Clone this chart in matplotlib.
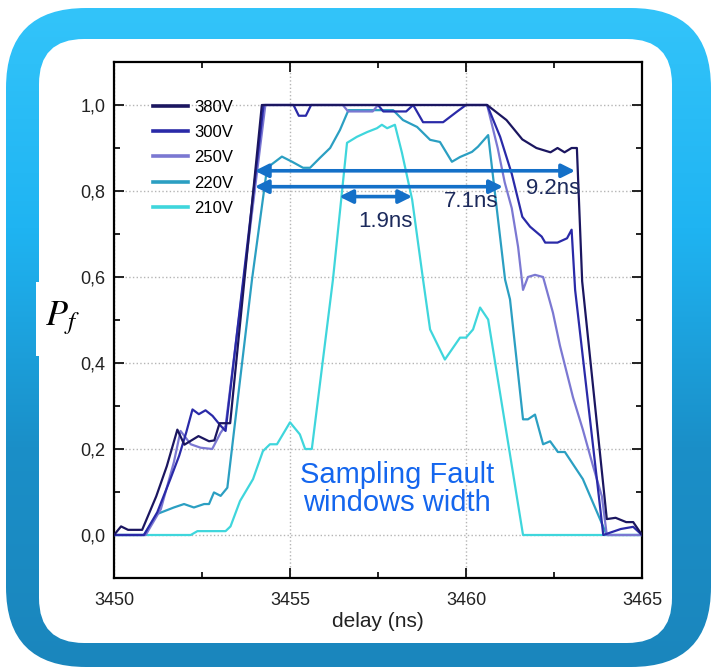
import numpy as np
import matplotlib
matplotlib.use("Agg")
import matplotlib.pyplot as plt
from matplotlib import font_manager
from matplotlib.patches import FancyBboxPatch, Rectangle
from matplotlib.colors import LinearSegmentedColormap
from matplotlib.ticker import MultipleLocator, FuncFormatter

# pulse delay (ns) vs fault probability, one curve per supply voltage
x380 = [3450.0, 3450.2, 3450.4, 3450.8, 3451.2, 3451.5, 3451.8, 3452.0, 3452.4, 3452.7,
        3452.85, 3453.0, 3453.3, 3454.2, 3460.6, 3461.15, 3461.6, 3462.0, 3462.4, 3462.6,
        3462.8, 3463.0, 3463.15, 3463.3, 3464.0, 3464.25, 3464.55, 3464.75, 3465.0]
y380 = [0.0, 0.02, 0.012, 0.012, 0.09, 0.16, 0.245, 0.21, 0.23, 0.218,
        0.22, 0.26, 0.26, 1.0, 1.0, 0.965, 0.92, 0.9, 0.89, 0.9,
        0.89, 0.9, 0.9, 0.59, 0.037, 0.04, 0.03, 0.03, 0.0]

x300 = [3450.0, 3450.85, 3451.23, 3451.6, 3451.85, 3452.05, 3452.23, 3452.41, 3452.6, 3452.8,
        3453.03, 3453.17, 3454.25, 3455.1, 3455.25, 3455.45, 3455.6, 3457.5, 3457.65, 3458.3,
        3458.5, 3458.78, 3459.35, 3459.75, 3460.0, 3460.6, 3460.97, 3461.3, 3461.6, 3461.82,
        3462.15, 3462.25, 3462.6, 3462.87, 3463.0, 3463.1, 3463.9, 3464.4, 3464.75, 3465.0]
y300 = [0.0, 0.0, 0.053, 0.13, 0.184, 0.238, 0.292, 0.281, 0.29, 0.277,
        0.254, 0.242, 1.0, 1.0, 0.975, 0.975, 1.0, 1.0, 0.985, 0.985,
        1.0, 0.96, 0.96, 0.985, 1.0, 1.0, 0.926, 0.84, 0.74, 0.717,
        0.694, 0.68, 0.68, 0.69, 0.71, 0.57, 0.0, 0.014, 0.019, 0.0]

x250 = [3450.0, 3450.9, 3451.33, 3451.7, 3451.89, 3452.18, 3452.46, 3452.79, 3453.03, 3453.17,
        3454.3, 3456.5, 3456.65, 3457.35, 3457.5, 3460.6, 3460.9, 3461.1, 3461.3, 3461.48,
        3461.62, 3461.76, 3461.96, 3462.19, 3462.47, 3462.67, 3463.04, 3463.32, 3463.61, 3463.86,
        3464.0, 3465.0]
y250 = [0.0, 0.0, 0.06, 0.169, 0.242, 0.211, 0.203, 0.2, 0.238, 0.254,
        1.0, 1.0, 0.985, 0.985, 1.0, 1.0, 0.9, 0.82, 0.76, 0.67,
        0.57, 0.6, 0.605, 0.6, 0.517, 0.44, 0.32, 0.245, 0.16, 0.09,
        0.0, 0.0]

x220 = [3450.0, 3450.85, 3451.23, 3451.7, 3451.99, 3452.27, 3452.56, 3452.7, 3452.84, 3453.03,
        3453.22, 3453.55, 3453.92, 3454.35, 3454.77, 3455.06, 3455.37, 3455.57, 3455.85, 3456.14,
        3456.42, 3456.66, 3457.93, 3458.21, 3458.61, 3458.98, 3459.26, 3459.6, 3459.83, 3460.17,
        3460.34, 3460.63, 3461.11, 3461.25, 3461.62, 3461.76, 3461.96, 3462.19, 3462.39, 3462.61,
        3462.81, 3463.32, 3464.0, 3465.0]
y220 = [0.0, 0.0, 0.049, 0.064, 0.072, 0.064, 0.072, 0.072, 0.099, 0.091,
        0.11, 0.339, 0.594, 0.854, 0.88, 0.868, 0.854, 0.854, 0.877, 0.9,
        0.942, 0.988, 0.988, 0.965, 0.949, 0.919, 0.914, 0.868, 0.879, 0.891,
        0.903, 0.93, 0.594, 0.548, 0.269, 0.269, 0.28, 0.211, 0.218, 0.193,
        0.193, 0.13, 0.0, 0.0]

x210 = [3450.0, 3452.18, 3452.37, 3453.17, 3453.31, 3453.58, 3453.95, 3454.23, 3454.43, 3454.63,
        3455.0, 3455.28, 3455.43, 3455.62, 3456.22, 3456.62, 3456.9, 3457.19, 3457.47, 3457.61,
        3457.76, 3457.98, 3458.18, 3458.47, 3458.78, 3458.98, 3459.4, 3459.83, 3460.0, 3460.2,
        3460.4, 3460.63, 3461.62, 3465.0]
y210 = [0.0, 0.0, 0.009, 0.009, 0.02, 0.079, 0.13, 0.195, 0.211, 0.211,
        0.262, 0.234, 0.2, 0.2, 0.594, 0.912, 0.926, 0.937, 0.946, 0.954,
        0.946, 0.954, 0.889, 0.78, 0.594, 0.478, 0.408, 0.459, 0.459, 0.478,
        0.529, 0.501, 0.0, 0.0]

labels = ["380V", "300V", "250V", "220V", "210V"]
colors = ["#1b1660", "#2a2aa8", "#7b78d2", "#2b9fc2", "#3fd6dc"]
series = [(x380, y380), (x300, y300), (x250, y250), (x220, y220), (x210, y210)]

# window widths: start, end, level, text and its position
win_start = [3454.0, 3454.0, 3456.4]
win_end = [3463.1, 3461.05, 3458.47]
win_level = [0.847, 0.81, 0.787]
win_text = ["9.2ns", "7.1ns", "1.9ns"]
win_tx = [3462.47, 3460.14, 3457.7]
win_ty = [0.805, 0.775, 0.729]

names = {f.name for f in font_manager.fontManager.ttflist}
narrow = "Liberation Sans Narrow" if "Liberation Sans Narrow" in names else "Liberation Sans"
plt.rcParams["font.family"] = [narrow, "DejaVu Sans"]
plt.rcParams["mathtext.fontset"] = "stix"

W, H = 713, 670
fig = plt.figure(figsize=(W / 100, H / 100), dpi=100)

# blue rounded frame behind the plot
bg = fig.add_axes([0, 0, 1, 1], zorder=-5)
bg.set_xlim(0, W)
bg.set_ylim(H, 0)
bg.axis("off")
outer = FancyBboxPatch((6, 8), 705, 659, boxstyle="round,pad=0,rounding_size=80",
                       facecolor="none", edgecolor="none")
bg.add_patch(outer)
cmap = LinearSegmentedColormap.from_list("frame", ["#33c4fa", "#1fb4f2", "#1a8fc8", "#1b86bd"])
img = bg.imshow(np.linspace(0, 1, 256).reshape(-1, 1), cmap=cmap, aspect="auto",
                extent=(6, 711, 667, 8), origin="upper")
img.set_clip_path(outer)
inner = FancyBboxPatch((39, 39), 633, 604, boxstyle="round,pad=0,rounding_size=45",
                       facecolor="white", edgecolor="none")
bg.add_patch(inner)
bg.add_patch(Rectangle((36, 282), 12, 74, facecolor="white", edgecolor="none"))

ax = fig.add_axes([114 / W, 1 - 578 / H, 528 / W, 516 / H])
for (xs, ys), lab, c, z in zip(series, labels, colors, [6, 5, 4, 3, 2]):
    ax.plot(xs, ys, color=c, lw=1.6, label=lab, zorder=z)

for s, e, lv in zip(win_start, win_end, win_level):
    ax.annotate("", xy=(e, lv), xytext=(s, lv),
                arrowprops=dict(arrowstyle="<|-|>", color="#1470c8", lw=2.6,
                                mutation_scale=20, shrinkA=0, shrinkB=0), zorder=8)
for t, tx, ty in zip(win_text, win_tx, win_ty):
    ax.text(tx, ty, t, ha="center", va="center", fontsize=16, color="#1c2a5c",
            family="Liberation Sans", zorder=9)

ax.text(3458.05, 0.107, "Sampling Fault\nwindows width", ha="center", va="center",
        fontsize=21, color="#1466ee", family="Liberation Sans", linespacing=1.0, zorder=9)

ax.set_xlim(3450, 3465)
ax.set_ylim(-0.1, 1.1)
ax.set_xticks([3450, 3455, 3460, 3465])
ax.set_yticks(np.arange(0, 1.01, 0.2))
ax.xaxis.set_minor_locator(MultipleLocator(2.5))
ax.yaxis.set_minor_locator(MultipleLocator(0.1))
ax.yaxis.set_major_formatter(FuncFormatter(lambda v, p: f"{v:.1f}".replace(".", ",")))
ax.tick_params(which="both", direction="in", top=True, right=True, width=1.4,
               labelsize=13, colors="#222222")
ax.tick_params(which="major", length=7, pad=6)
ax.tick_params(axis="x", which="major", pad=10)
ax.tick_params(which="minor", length=4)
ax.grid(which="major", linestyle=":", color="#b5b5b5", lw=1)
for sp in ax.spines.values():
    sp.set_linewidth(1.6)
ax.set_xlabel("delay (ns)", fontsize=15, labelpad=2, color="#222222")

leg = ax.legend(loc="upper left", bbox_to_anchor=(0.062, 0.94), frameon=False,
                fontsize=12, handlelength=2.1, handletextpad=0.35, labelspacing=0.62,
                borderaxespad=0)
for h in leg.get_lines():
    h.set_linewidth(2.6)

fig.text(62 / W, 1 - 318 / H, r"$P_f$", fontsize=26, ha="center", va="center")

fig.savefig("out.png", dpi=100)
